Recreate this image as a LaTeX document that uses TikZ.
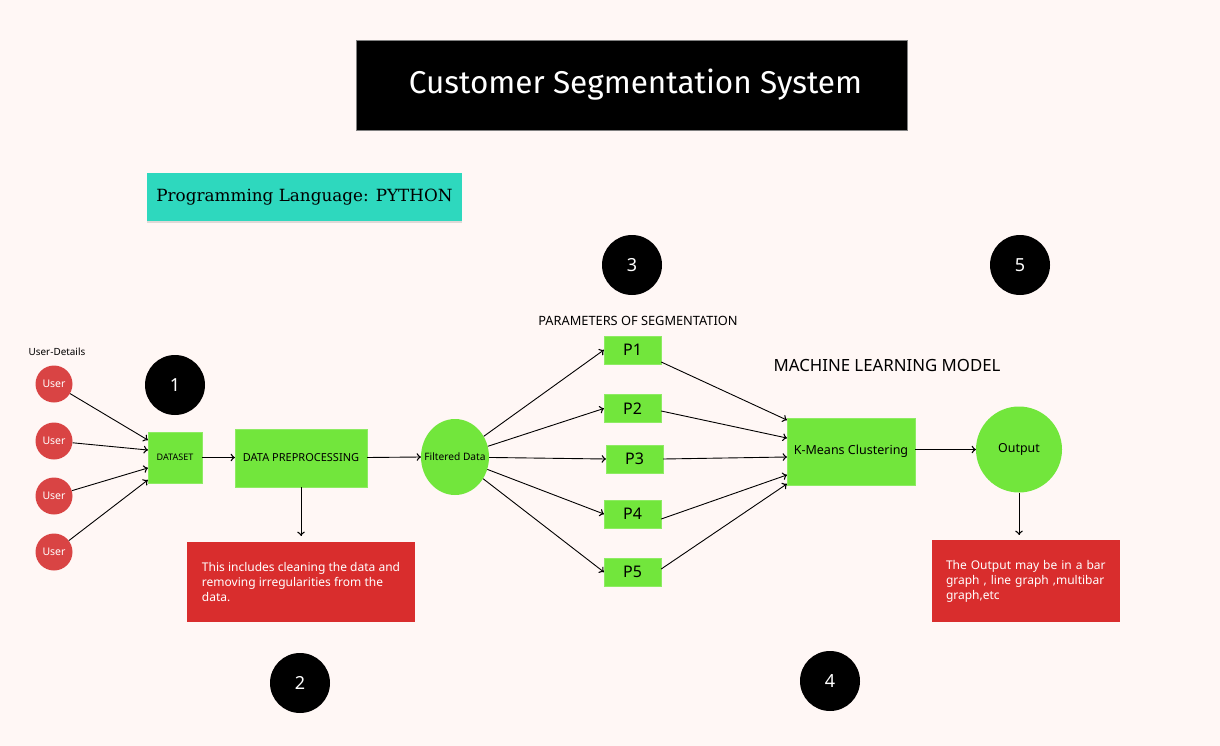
\documentclass[tikz,border=0pt]{standalone}
\usepackage{fontspec}
\setmainfont{Noto Sans}
\newfontfamily\titlefont{Fira Sans}
\newfontfamily\slabfont{DejaVu Serif}
\usetikzlibrary{arrows,decorations.markings,shapes.geometric,shadows}
\definecolor{bgpink}{RGB}{255,247,245}
\definecolor{limegreen}{RGB}{114,230,60}
\definecolor{userred}{RGB}{217,68,68}
\definecolor{notered}{RGB}{217,45,45}
\definecolor{tealbox}{RGB}{46,216,190}
\tikzstyle{green box} = [rectangle, fill=limegreen, draw=limegreen!80!white, text=black]
\tikzstyle{user} = [circle, fill=userred, minimum size=37pt, inner sep=0pt, text=white, font=\fontsize{10.5}{12}\selectfont]
\tikzstyle{number} = [circle, fill=black, minimum size=60pt, inner sep=0pt, text=white, font=\fontsize{18}{20}\selectfont]
\tikzstyle{note} = [rectangle, fill=notered, text=white, align=left, font=\fontsize{12}{15}\selectfont]
\tikzstyle{param} = [green box, minimum width=57pt, minimum height=28pt, inner sep=0pt, font=\fontsize{16}{18}\selectfont]

\begin{document}
\begin{tikzpicture}[x=1pt,y=-1pt]
        \tikzset{myptr/.style={line width=0.9pt, decoration={markings,mark=at position 1 with %
    {\arrow[scale=1.5]{to}}},postaction={decorate}}}
        \fill[bgpink] (0,0) rectangle (1220,746);
        \useasboundingbox (0,0) rectangle (1220,746);

        \node (title) [rectangle, fill=black, draw=gray, minimum width=551pt, minimum height=90pt, text=white, font=\titlefont\fontsize{31.5}{34}\selectfont] at (631.5,85) {\hspace*{8pt}Customer Segmentation System};
        \node (lang) [rectangle, fill=tealbox, minimum width=315pt, minimum height=48pt, font=\slabfont\fontsize{16.8}{18}\selectfont, drop shadow={opacity=0.25, shadow xshift=0pt, shadow yshift=-1.5pt}] at (304.5,197) {Programming Language: PYTHON};

        % users
        \node (details) at (57,352) {\fontsize{9.9}{11}\selectfont User-Details};
        \node (u1) [user] at (54,384) {User};
        \node (u2) [user] at (54,441) {User};
        \node (u3) [user] at (54,496) {User};
        \node (u4) [user] at (54,552) {User};

        \node (dataset) [green box, minimum width=54pt, minimum height=51pt, inner sep=0pt, font=\fontsize{9}{10}\selectfont] at (175,457.5) {DATASET};
        \node (prep) [green box, minimum width=132pt, minimum height=58pt, inner sep=0pt, font=\fontsize{11}{12}\selectfont] at (301,458) {DATA PREPROCESSING};
        \node (filtered) [ellipse, fill=limegreen, minimum width=68pt, minimum height=76pt, inner sep=0pt, font=\fontsize{10.2}{11}\selectfont] at (455,457) {\makebox[0pt]{Filtered Data}};
        \node (clean) [note, minimum width=228pt, minimum height=80pt, inner xsep=11pt, inner ysep=0pt] at (301,582) {This includes cleaning the data and\\removing irregularities from the\\data.};

        % parameters
        \node (params) at (638,321) {\fontsize{12.8}{14}\selectfont PARAMETERS OF SEGMENTATION};
        \node (p1) [param] at (632.5,350) {P1};
        \node (p2) [param] at (632.5,408.5) {P2};
        \node (p3) [param] at (634.5,459) {P3};
        \node (p4) [param] at (632.5,514) {P4};
        \node (p5) [param] at (632.5,572) {P5};

        \node (mlmodel) at (887,365) {\fontsize{16.8}{18}\selectfont MACHINE LEARNING MODEL};
        \node (kmeans) [green box, minimum width=128pt, minimum height=67pt, inner sep=0pt, font=\fontsize{12.5}{14}\selectfont] at (851,451.5) {K-Means Clustering};
        \node (output) [circle, fill=limegreen, minimum size=86pt, inner sep=0pt, font=\fontsize{12.4}{14}\selectfont] at (1019,449.5) {Output};
        \node (result) [note, minimum width=188pt, minimum height=82pt, text width=160pt, inner xsep=14pt, inner ysep=0pt] at (1026,581) {The Output may be in a bar graph , line graph ,multibar graph,etc};

        % step numbers
        \node (n1) [number] at (175,385) {1};
        \node (n2) [number] at (300,683) {2};
        \node (n3) [number] at (632,265) {3};
        \node (n4) [number] at (830,681) {4};
        \node (n5) [number] at (1020,265) {5};

        \draw [myptr] (u1) -- ([yshift=17.5pt]dataset.west);
        \draw [myptr] (u2) -- ([yshift=7.5pt]dataset.west);
        \draw [myptr] (u3) -- ([yshift=-10.5pt]dataset.west);
        \draw [myptr] (u4) -- ([yshift=-22.5pt]dataset.west);
        \draw [myptr] (dataset.east) -- (prep.west |- dataset.east);
        \draw [myptr] (prep.east |- dataset.east) -- (filtered.west);
        \draw [myptr] (prep.south) -- ([yshift=6pt]prep.south |- clean.north);

        \draw [myptr] (filtered) -- (p1.west);
        \draw [myptr] (filtered) -- (p2.west);
        \draw [myptr] (filtered) -- (p3.west);
        \draw [myptr] (filtered) -- (p4.west);
        \draw [myptr] (filtered) -- (p5.west);

        \draw [myptr] ([yshift=-12pt]p1.east) -- ([yshift=31.5pt]kmeans.west);
        \draw [myptr] ([yshift=-2.5pt]p2.east) -- ([yshift=13.5pt]kmeans.west);
        \draw [myptr] (p3.east) -- ([yshift=-5.5pt]kmeans.west);
        \draw [myptr] ([yshift=-5pt]p4.east) -- ([yshift=-23.5pt]kmeans.west);
        \draw [myptr] ([yshift=3pt]p5.east) -- ([yshift=-32.5pt]kmeans.west);

        \draw [myptr] (kmeans.east |- output.west) -- (output.west);
        \draw [myptr] (output.south) -- ([yshift=5pt]output.south |- result.north);
    \end{tikzpicture}
\end{document}
